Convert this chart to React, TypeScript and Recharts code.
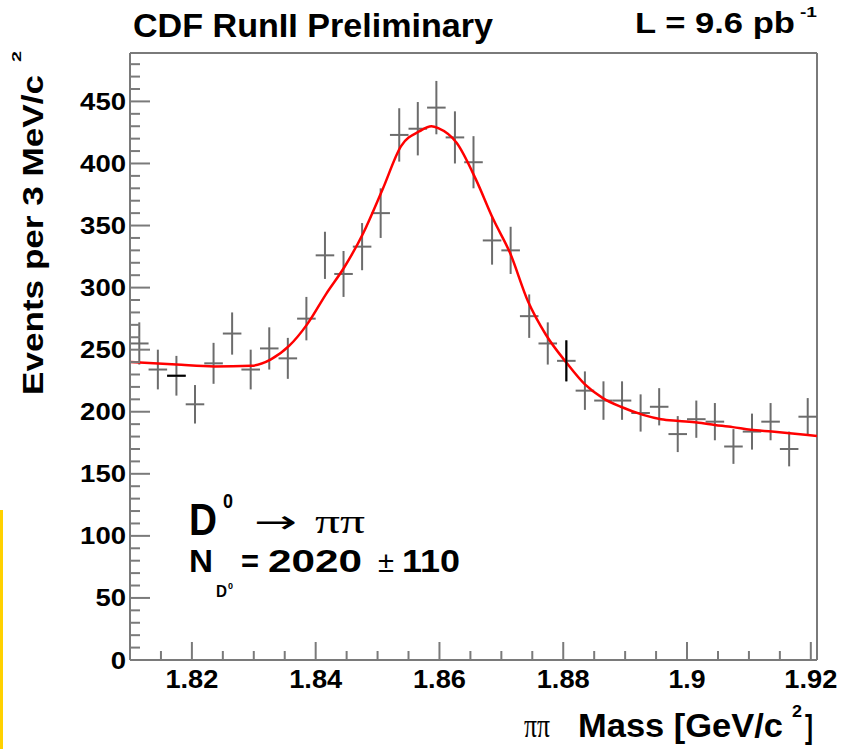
import React from "react";
import {
  ComposedChart,
  ErrorBar,
  Line,
  ReferenceLine,
  Scatter,
  XAxis,
  YAxis,
} from "recharts";

// bin centres, 3 MeV bins from 1.810 to 1.921 GeV/c^2
const MASS = [
  1.8115, 1.8145, 1.8175, 1.8205, 1.8235, 1.8265, 1.8295, 1.8325, 1.8355, 1.8385,
  1.8415, 1.8445, 1.8475, 1.8505, 1.8535, 1.8565, 1.8595, 1.8625, 1.8655, 1.8685,
  1.8715, 1.8745, 1.8775, 1.8805, 1.8835, 1.8865, 1.8895, 1.8925, 1.8955, 1.8985,
  1.9015, 1.9045, 1.9075, 1.9105, 1.9135, 1.9165, 1.9195,
];
const COUNTS = [
  255, 234, 229, 206, 239, 263, 234, 251, 243, 275,
  326, 311, 333, 360, 423, 428, 445, 421, 401, 338,
  330, 277, 255, 241, 217, 209, 209, 199, 204, 182,
  194, 192, 172, 184, 192, 170, 196,
];
const ERRORS = [
  17, 16, 16, 15.5, 16.5, 17, 16, 17, 16.5, 17.5,
  19, 18.5, 19, 20, 21.5, 21.5, 21.5, 21, 21, 19.5,
  19, 17.5, 17, 16.5, 15.5, 15.5, 15.5, 15, 15, 14.5,
  15, 15, 14, 14.5, 15, 14, 15,
];
const BIN_HALF = 0.0015;

// two bars that show up darker in the picture
const DARK_V_BIN = 23;
const DARK_H_BIN = 2;

// fit curve
const FIT_MASS = [
  1.81, 1.8175, 1.8236, 1.8296, 1.8327, 1.8357, 1.8387, 1.8417, 1.8447, 1.8477,
  1.8508, 1.8538, 1.8568, 1.8587, 1.8598, 1.8628, 1.8659, 1.8687, 1.8714, 1.8743,
  1.8772, 1.8806, 1.8835, 1.8864, 1.8893, 1.8929, 1.8958, 1.8987, 1.9016, 1.9045,
  1.9074, 1.9103, 1.9137, 1.9166, 1.9195, 1.921,
];
const FIT_VALUE = [
  240, 238, 236.5, 237, 242, 253, 271, 295, 317, 344,
  379, 414, 426, 430, 428.5, 416.5, 387, 355, 328, 289,
  262, 239, 222, 211, 204, 197.5, 194, 192.6, 191.3, 189.4,
  187.6, 185.4, 184, 182.7, 181.3, 180.5,
];

const X_MAJOR_TICKS = [1.82, 1.84, 1.86, 1.88, 1.9, 1.92];
const X_MINOR_TICKS = [
  1.815, 1.825, 1.83, 1.835, 1.845, 1.85, 1.855, 1.865, 1.87, 1.875,
  1.885, 1.89, 1.895, 1.905, 1.91, 1.915,
];
const Y_MAJOR_TICKS = [0, 50, 100, 150, 200, 250, 300, 350, 400, 450];
const Y_MINOR_TICKS = Array.from({ length: 49 }, (_, i) => i * 10).filter(
  (v) => v % 50 !== 0
);

const X_MIN = 1.81;
const X_MAX = 1.921;
const Y_MAX = 489;

const bins = MASS.map((m, i) => ({
  mass: m,
  count: COUNTS[i],
  err: ERRORS[i],
  half: BIN_HALF,
}));
const darkV = [{ mass: MASS[DARK_V_BIN], count: COUNTS[DARK_V_BIN], err: ERRORS[DARK_V_BIN] }];
const darkH = [{ mass: MASS[DARK_H_BIN], count: COUNTS[DARK_H_BIN], half: BIN_HALF }];
const fit = FIT_MASS.map((m, i) => ({ mass: m, fit: FIT_VALUE[i] }));

const AXIS = "#7a7a7a";
const CROSS = "#6c6c6c";
const SANS = "'Liberation Sans', Arial, sans-serif";
const SERIF = "'Liberation Serif', 'DejaVu Serif', serif";

function XTick({ x, y, payload }: any) {
  const v = payload.value;
  const major = X_MAJOR_TICKS.some((t) => Math.abs(t - v) < 1e-9);
  const label = String(v);
  return (
    <g>
      <line x1={x} x2={x} y1={y} y2={y - (major ? 18 : 9)} stroke={AXIS} strokeWidth={2} />
      {major && (
        <text
          x={x}
          y={y + 28}
          textAnchor="middle"
          fontFamily={SANS}
          fontWeight="bold"
          fontSize={25}
          fill="#000"
          textLength={label.length === 3 ? 37 : 53}
          lengthAdjust="spacingAndGlyphs"
        >
          {label}
        </text>
      )}
    </g>
  );
}

function YTick({ x, y, payload }: any) {
  const v = payload.value;
  const major = Y_MAJOR_TICKS.includes(v);
  const label = String(v);
  return (
    <g>
      <line x1={x} x2={x + (major ? 20 : 10)} y1={y} y2={y} stroke={AXIS} strokeWidth={2} />
      {major && (
        <text
          x={x - 4}
          y={y + 8.5}
          textAnchor="end"
          fontFamily={SANS}
          fontWeight="bold"
          fontSize={24}
          fill="#000"
          textLength={label.length * 15.3}
          lengthAdjust="spacingAndGlyphs"
        >
          {label}
        </text>
      )}
    </g>
  );
}

function Labels() {
  const t = { lengthAdjust: "spacingAndGlyphs" as const };
  return (
    <svg
      width={845}
      height={749}
      style={{ position: "absolute", left: 0, top: 0, pointerEvents: "none" }}
    >
      <g fontFamily={SANS} fontWeight="bold" fill="#000">
        <text x={133} y={37} fontSize={33} textLength={360} {...t}>
          CDF RunII Preliminary
        </text>
        <text x={635} y={33} fontSize={30} textLength={160} {...t}>
          L = 9.6 pb
        </text>
        <text x={800} y={17} fontSize={15} textLength={17} {...t}>
          -1
        </text>

        <text transform="translate(43,395) rotate(-90)" fontSize={29} textLength={320} {...t}>
          Events per 3 MeV/c
        </text>
        <text transform="translate(21,62) rotate(-90)" fontSize={13} textLength={11} {...t}>
          2
        </text>

        <text x={578} y={737} fontSize={34} textLength={205} {...t}>
          Mass [GeV/c
        </text>
        <text x={792} y={717} fontSize={16} textLength={10} {...t}>
          2
        </text>
        <text x={805} y={738} fontSize={34} textLength={8} {...t}>
          ]
        </text>

        <text x={189} y={535} fontSize={44} textLength={28} {...t}>
          D
        </text>
        <text x={223} y={508} fontSize={20} textLength={10} {...t}>
          0
        </text>
        <text x={189} y={572} fontSize={32} textLength={24} {...t}>
          N
        </text>
        <text x={216} y={597} fontSize={17} textLength={11} {...t}>
          D
        </text>
        <text x={228} y={589} fontSize={9} textLength={5} {...t}>
          0
        </text>
        <text x={241} y={572} fontSize={32} textLength={18} {...t}>
          =
        </text>
        <text x={268} y={572} fontSize={32} textLength={94} {...t}>
          2020
        </text>
        <text x={402} y={572} fontSize={32} textLength={58} {...t}>
          110
        </text>
      </g>
      <g fill="#000" fontWeight="normal">
        <text x={254} y={533} fontSize={32} fontFamily="'DejaVu Sans', sans-serif" textLength={43} {...t}>
          →
        </text>
        <text x={315} y={533} fontSize={34} fontFamily={SERIF} textLength={50} {...t}>
          ππ
        </text>
        <text x={378} y={572} fontSize={30} fontFamily={SANS} textLength={16} {...t}>
          ±
        </text>
        <text x={524} y={737} fontSize={34} fontFamily={SERIF} textLength={26} {...t}>
          ππ
        </text>
      </g>
    </svg>
  );
}

export default function App() {
  return (
    <div
      style={{
        position: "absolute",
        left: 0,
        top: 0,
        width: 845,
        height: 749,
        background: "#fff",
        overflow: "hidden",
      }}
    >
      <ComposedChart
        width={845}
        height={749}
        margin={{ top: 53, right: 28, bottom: 0, left: 0 }}
      >
        <XAxis
          type="number"
          dataKey="mass"
          domain={[X_MIN, X_MAX]}
          ticks={[...X_MAJOR_TICKS, ...X_MINOR_TICKS].sort((a, b) => a - b)}
          interval={0}
          allowDataOverflow
          height={89}
          tickSize={0}
          tickMargin={0}
          tickLine={false}
          axisLine={{ stroke: AXIS, strokeWidth: 2 }}
          tick={<XTick />}
        />
        <YAxis
          type="number"
          domain={[0, Y_MAX]}
          ticks={[...Y_MAJOR_TICKS, ...Y_MINOR_TICKS].sort((a, b) => a - b)}
          interval={0}
          allowDataOverflow
          width={130}
          tickSize={0}
          tickMargin={0}
          tickLine={false}
          axisLine={{ stroke: AXIS, strokeWidth: 2 }}
          tick={<YTick />}
        />
        <ReferenceLine y={Y_MAX} stroke={AXIS} strokeWidth={2} />
        <ReferenceLine x={X_MAX} stroke={AXIS} strokeWidth={2} />
        <Scatter
          data={bins}
          dataKey="count"
          shape={() => <g />}
          isAnimationActive={false}
        >
          <ErrorBar dataKey="err" direction="y" width={0} stroke={CROSS} strokeWidth={2} isAnimationActive={false} />
          <ErrorBar dataKey="half" direction="x" width={0} stroke={CROSS} strokeWidth={2} isAnimationActive={false} />
        </Scatter>
        <Line
          data={fit}
          dataKey="fit"
          type="monotone"
          stroke="#ff0000"
          strokeWidth={2.5}
          dot={false}
          isAnimationActive={false}
        />
        <Scatter data={darkV} dataKey="count" shape={() => <g />} isAnimationActive={false}>
          <ErrorBar dataKey="err" direction="y" width={0} stroke="#000" strokeWidth={2} isAnimationActive={false} />
        </Scatter>
        <Scatter data={darkH} dataKey="count" shape={() => <g />} isAnimationActive={false}>
          <ErrorBar dataKey="half" direction="x" width={0} stroke="#000" strokeWidth={2} isAnimationActive={false} />
        </Scatter>
      </ComposedChart>
      <Labels />
      <div
        style={{
          position: "absolute",
          left: 0,
          top: 510,
          width: 3,
          height: 239,
          background: "#ffd100",
        }}
      />
    </div>
  );
}
